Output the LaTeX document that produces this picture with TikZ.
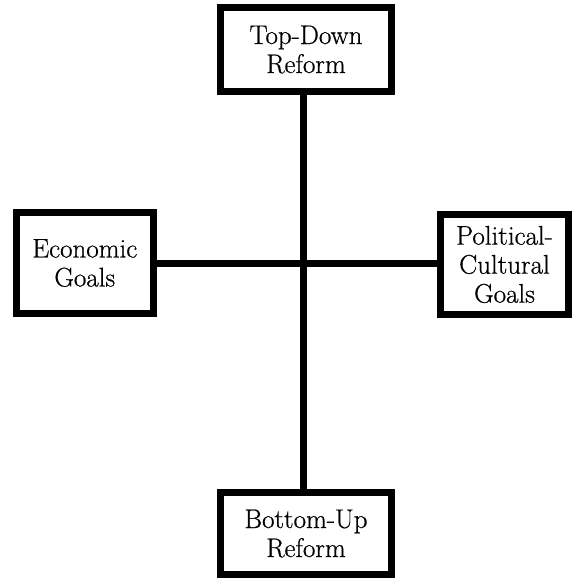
\documentclass[tikz,border=0pt]{standalone}
\usepackage{fontspec}
\setmainfont{Latin Modern Roman}[FakeBold=0.6]
\begin{document}
\begin{tikzpicture}[x=1pt,y=-1pt,
  box/.style={draw=black, line width=7pt, fill=white, align=center, inner sep=0pt,
    font=\fontsize{27}{29}\selectfont, text=black},
  link/.style={line width=7pt, draw=black}]
\useasboundingbox (0,0) rectangle (572,579);
\node[box, minimum width=171pt, minimum height=84pt] (topr) at (306,49.5) {Top-Down\\Reform};
\node[box, minimum width=171pt, minimum height=82pt] (botr) at (306,533.5) {Bottom-Up\\Reform};
\node[box, minimum width=137.5pt, minimum height=101pt] (econ) at (84.75,263) {Economic\\Goals};
\node[box, minimum width=128pt, minimum height=100pt] (polit) at (504.5,264.5) {Political-\\Cultural\\Goals};
\coordinate (c) at (303.5,263);
\draw[link] (topr.south -| c) -- (botr.north -| c);
\draw[link] (econ.east |- c) -- (polit.west |- c);
\end{tikzpicture}
\end{document}
